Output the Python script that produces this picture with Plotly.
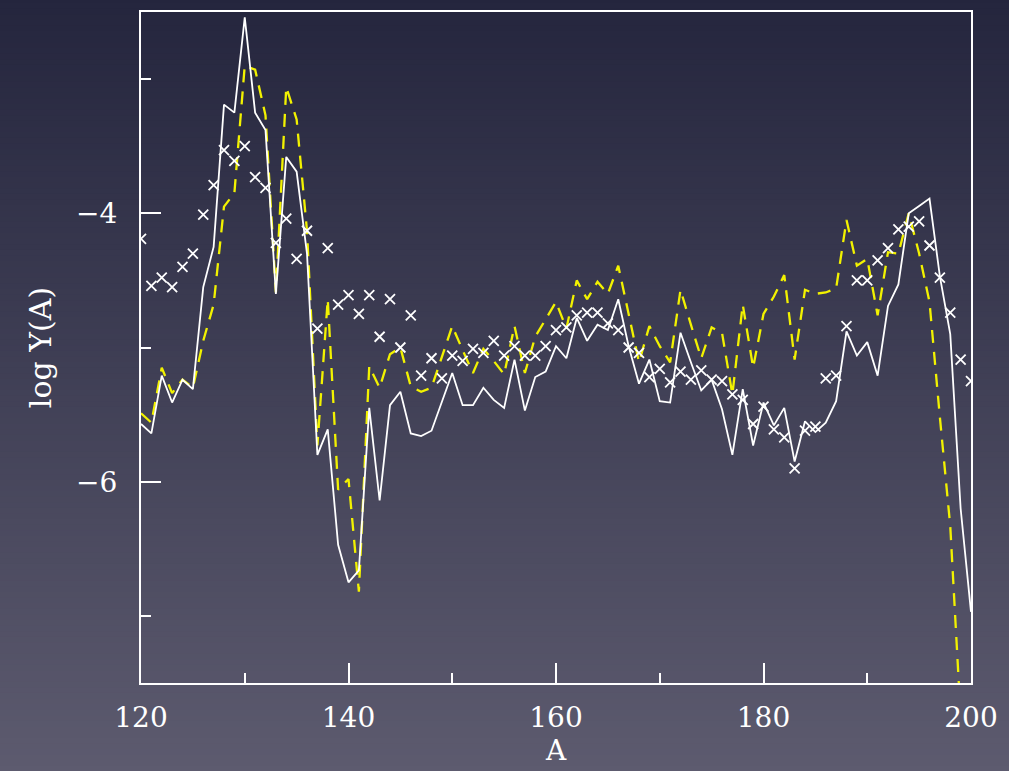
import plotly.graph_objects as go

# Mass number grid
mass_number = list(range(120, 201))

# Solid white model curve: log Y(A)
model_solid = [
    -5.57, -5.64, -5.21, -5.41, -5.24, -5.31, -4.55, -4.25, -3.19, -3.25,
    -2.54, -3.25, -3.38, -4.60, -3.58, -3.69, -4.30, -5.80, -5.61, -6.47,
    -6.75, -6.66, -5.45, -6.14, -5.43, -5.33, -5.64, -5.66, -5.62, -5.40,
    -5.19, -5.43, -5.43, -5.30, -5.39, -5.45, -5.09, -5.47, -5.22, -5.18,
    -4.99, -5.08, -4.78, -4.95, -4.83, -4.87, -4.64, -4.99, -5.27, -5.09,
    -5.40, -5.41, -4.89, -5.11, -5.32, -5.24, -5.46, -5.80, -5.31, -5.73,
    -5.41, -5.58, -5.45, -5.85, -5.55, -5.63, -5.56, -5.40, -4.88, -5.06,
    -4.96, -5.21, -4.69, -4.53, -4.00, -3.945, -3.89, -4.47, -4.90, -6.20,
    -6.97,
]

# Dashed yellow model curve: log Y(A)
model_dashed = [
    -5.49, -5.56, -5.15, -5.34, -5.24, -5.30, -4.95, -4.68, -3.95, -3.85,
    -2.90, -2.93, -3.27, -4.59, -3.06, -3.30, -4.13, -5.73, -4.64, -6.06,
    -5.98, -6.82, -5.14, -5.30, -5.05, -5.00, -5.29, -5.33, -5.30, -5.07,
    -4.84, -5.02, -5.19, -5.01, -5.10, -5.20, -4.84, -5.19, -4.92, -4.79,
    -4.66, -4.86, -4.50, -4.64, -4.51, -4.60, -4.39, -4.75, -5.11, -4.84,
    -4.99, -5.11, -4.57, -4.83, -5.08, -4.85, -4.89, -5.35, -4.68, -5.15,
    -4.75, -4.62, -4.46, -5.09, -4.57, -4.60, -4.59, -4.56, -4.05, -4.39,
    -4.34, -4.76, -4.29, -4.30, -4.00, -4.30, -4.66, -5.52, -6.33, -7.75,
    -8.60,
]

# Observed abundances (crosses): log Y(A)
observed = [
    -4.19, -4.54, -4.48, -4.55, -4.40, -4.30, -4.01, -3.79, -3.53, -3.61,
    -3.50, -3.73, -3.81, -4.22, -4.04, -4.34, -4.13, -4.86, -4.26, -4.68,
    -4.61, -4.75, -4.61, -4.92, -4.64, -5.00, -4.76, -5.21, -5.08, -5.23,
    -5.06, -5.10, -5.01, -5.04, -4.95, -5.06, -4.99, -5.06, -5.06, -4.99,
    -4.87, -4.85, -4.76, -4.74, -4.74, -4.82, -4.87, -5.00, -5.04, -5.22,
    -5.16, -5.26, -5.18, -5.24, -5.17, -5.24, -5.25, -5.35, -5.39, -5.57,
    -5.44, -5.61, -5.67, -5.90, -5.62, -5.59, -5.23, -5.21, -4.84, -4.50,
    -4.50, -4.35, -4.26, -4.12, -4.10, -4.06, -4.24, -4.48, -4.74, -5.09,
    -5.25,
]

FONT = "DejaVu Serif"
WHITE = "#ffffff"

fig = go.Figure()

fig.add_trace(go.Scatter(
    x=mass_number, y=model_dashed, mode="lines",
    line=dict(color="#f2f200", width=2.3, dash="13px,9px"),
    showlegend=False,
))
fig.add_trace(go.Scatter(
    x=mass_number, y=model_solid, mode="lines",
    line=dict(color=WHITE, width=1.8),
    showlegend=False,
))
fig.add_trace(go.Scatter(
    x=mass_number, y=observed, mode="markers",
    marker=dict(symbol="x-thin", size=10, line=dict(color=WHITE, width=1.8)),
    showlegend=False,
))

# Vertical background gradient built from thin bands
top_rgb = (36, 37, 61)
bot_rgb = (93, 91, 111)
n_bands = 140
shapes = []
y0_paper, y1_paper = -0.14, 1.03
for i in range(n_bands):
    t = i / (n_bands - 1)
    r = round(bot_rgb[0] + (top_rgb[0] - bot_rgb[0]) * t)
    g = round(bot_rgb[1] + (top_rgb[1] - bot_rgb[1]) * t)
    b = round(bot_rgb[2] + (top_rgb[2] - bot_rgb[2]) * t)
    ya = y0_paper + (y1_paper - y0_paper) * i / n_bands
    yb = y0_paper + (y1_paper - y0_paper) * (i + 1) / n_bands + 0.002
    shapes.append(dict(
        type="rect", xref="paper", yref="paper",
        x0=-0.2, x1=1.1, y0=ya, y1=yb,
        fillcolor=f"rgb({r},{g},{b})", line=dict(width=0), layer="below",
    ))

axis_common = dict(
    showgrid=False, zeroline=False,
    showline=True, linecolor=WHITE, linewidth=2, mirror=True,
    ticks="inside", tickcolor=WHITE, tickwidth=2,
    tickfont=dict(family=FONT, size=28, color=WHITE),
)

fig.update_layout(
    width=1009, height=771,
    margin=dict(l=141, r=38, t=10, b=85),
    paper_bgcolor="rgb(60,60,82)",
    plot_bgcolor="rgba(0,0,0,0)",
    shapes=shapes,
    xaxis=dict(
        range=[120, 200], tick0=120, dtick=20, ticklen=20,
        minor=dict(ticks="inside", dtick=10, ticklen=10, tickcolor=WHITE, tickwidth=2),
        ticklabelstandoff=8,
        title=dict(text="A", font=dict(family=FONT, size=28, color=WHITE), standoff=8),
        **axis_common,
    ),
    yaxis=dict(
        range=[-7.5, -2.5], tick0=0, dtick=2, ticklen=20,
        minor=dict(ticks="inside", dtick=1, ticklen=10, tickcolor=WHITE, tickwidth=2),
        ticklabelstandoff=16,
        title=dict(text="log Y(A)", font=dict(family=FONT, size=30, color=WHITE), standoff=16),
        **axis_common,
    ),
)

fig.write_html("out.html")
